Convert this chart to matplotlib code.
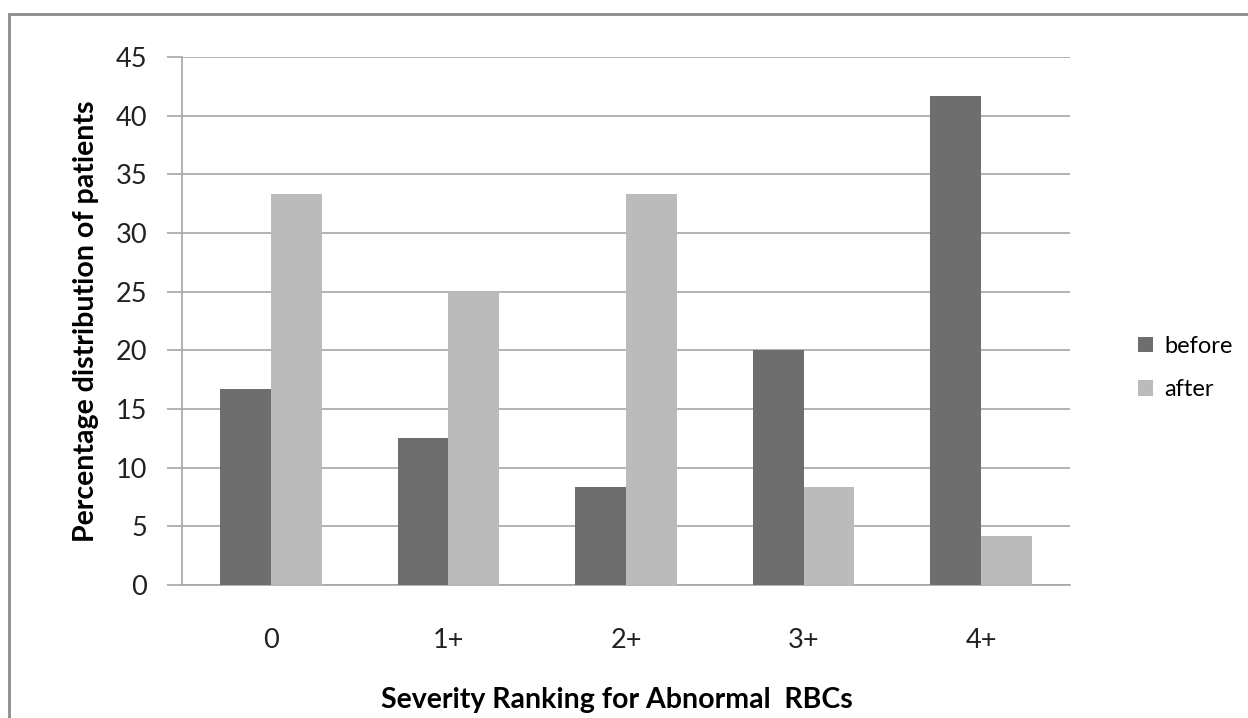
import numpy as np
import matplotlib
matplotlib.use("Agg")
import matplotlib.pyplot as plt
from matplotlib.patches import Rectangle

plt.rcParams['font.family'] = ['Lato', 'DejaVu Sans']

# severity categories and percentage of patients in each
categories = ['0', '1+', '2+', '3+', '4+']
before = [16.67, 12.5, 8.33, 20.0, 41.67]
after = [33.33, 25.0, 33.33, 8.33, 4.17]
yticks = [0, 5, 10, 15, 20, 25, 30, 35, 40, 45]

W, H = 1248, 718
fig = plt.figure(figsize=(W / 100, H / 100), dpi=100)
ax = fig.add_axes([182 / W, 1 - 585 / H, 888 / W, 528 / H])

# outer chart frame, runs off the right and bottom edges
fig.patches.append(Rectangle((9 / W, -0.05), 1.2, 1 - 14 / H + 0.05,
                             transform=fig.transFigure, fill=False,
                             edgecolor='#8c8c8c', linewidth=2))

x = np.arange(len(categories))
w = 1 / 3.5  # gap width 150%
ax.bar(x - w / 2, before, w, color='#6e6e6e', label='before', zorder=3)
ax.bar(x + w / 2, after, w, color='#bbbbbb', label='after', zorder=3)

ax.set_xlim(-0.5, len(categories) - 0.5)
ax.set_ylim(0, 45)
ax.set_yticks(yticks)
ax.set_xticks(x)
ax.set_xticklabels(categories)
ax.yaxis.grid(True, color='#a6a6a6', linewidth=1.2, zorder=0)
ax.set_axisbelow(True)

for s in ['top', 'right']:
    ax.spines[s].set_visible(False)
for s in ['left', 'bottom']:
    ax.spines[s].set_color('#a6a6a6')
    ax.spines[s].set_linewidth(1.2)

ax.tick_params(axis='y', length=11, color='#a6a6a6', width=1.2, labelsize=19.5,
               pad=14, labelcolor='#222222')
ax.tick_params(axis='x', length=0, labelsize=19.5, pad=31, labelcolor='#222222')

ax.set_ylabel('Percentage distribution of patients', fontsize=20.5,
              fontweight='bold', va='center')
ax.yaxis.set_label_coords((86 - 182) / 888, 0.5)
ax.set_xlabel('Severity Ranking for Abnormal  RBCs', fontsize=20.5,
              fontweight='bold', va='center')
ax.xaxis.set_label_coords(0.49, (585 - 700) / 528)

ax.legend(loc='center left', bbox_to_anchor=(1138 / W, 1 - 368 / H),
          bbox_transform=fig.transFigure, frameon=False, borderpad=0,
          borderaxespad=0, fontsize=17, handlelength=0.65, handleheight=0.65,
          handletextpad=0.45, labelspacing=0.95)

fig.savefig('out.png', dpi=100)
